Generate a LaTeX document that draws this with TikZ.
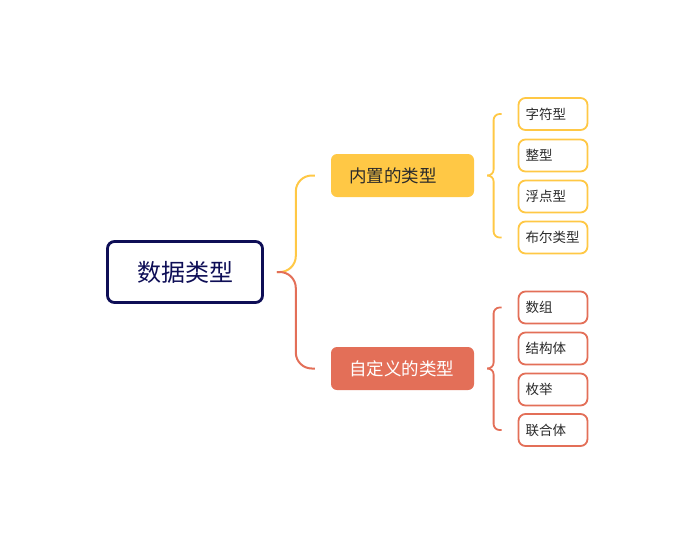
\documentclass[tikz,border=0pt]{standalone}
\usepackage{fontspec}
\setmainfont{Noto Sans CJK SC}
\definecolor{rootnavy}{HTML}{0E0E56}
\definecolor{inyellow}{HTML}{FFC845}
\definecolor{usrred}{HTML}{E36F58}
\definecolor{leafink}{HTML}{2B2B2B}
\begin{document}
\begin{tikzpicture}[x=1pt,y=-1pt,
    rootbox/.style={draw=rootnavy, line width=2.8pt, rounded corners=7pt,
      minimum width=155pt, minimum height=61pt, text=rootnavy,
      font=\fontsize{24}{26}\selectfont},
    kindbox/.style={rounded corners=6pt, inner xsep=18pt, text width=107pt,
      align=left, minimum height=43pt, font=\fontsize{17.5}{19}\selectfont},
    leafbox/.style={draw=#1, fill=white, line width=1.8pt, rounded corners=7pt,
      inner xsep=7pt, text width=55pt, align=left, minimum height=32pt,
      text=leafink, font=\fontsize{13.5}{15}\selectfont},
    link/.style={draw=#1, line width=2pt, rounded corners=16pt},
    brace/.style={draw=#1, line width=1.8pt, rounded corners=6pt}]
    \useasboundingbox (0,0) rectangle (683,558);
    % Root and kinds
    \node[rootbox] (root) at (185,272) {\raisebox{-1.5pt}{数据类型}};
    \node[kindbox, fill=inyellow, text=leafink] (inner) at (402.5,175.5) {内置的类型};
    \node[kindbox, fill=usrred, text=white] (user) at (402.5,368.5) {自定义的类型};
    % Leaves
    \node[leafbox=inyellow] (chr)  at (553,114)   {字符型};
    \node[leafbox=inyellow] (int)  at (553,155.5) {整型};
    \node[leafbox=inyellow] (flt)  at (553,196.5) {浮点型};
    \node[leafbox=inyellow] (bool) at (553,237.5) {布尔类型};
    \node[leafbox=usrred] (arr)  at (553,307.5) {数组};
    \node[leafbox=usrred] (rec)  at (553,348.5) {结构体};
    \node[leafbox=usrred] (enm)  at (553,389.5) {枚举};
    \node[leafbox=usrred] (uni)  at (553,430)   {联合体};
    % Links from the root
    \coordinate (rootout) at ([xshift=13pt]root.east);
    \draw[link=inyellow] (rootout) -| ([xshift=-35pt]inner.west) -- ([xshift=-16pt]inner.west);
    \draw[link=usrred] (rootout) -| ([xshift=-35pt]user.west) -- ([xshift=-16pt]user.west);
    % Braces to the leaves
    \coordinate (innerout) at ([xshift=13pt]inner.east);
    \coordinate (userout) at ([xshift=13pt]user.east);
    \draw[brace=inyellow] (innerout) -| ([xshift=-24pt]chr.west) -- ([xshift=-16pt]chr.west);
    \draw[brace=inyellow] (innerout) -| ([xshift=-24pt]bool.west) -- ([xshift=-16pt]bool.west);
    \draw[brace=usrred] (userout) -| ([xshift=-24pt]arr.west) -- ([xshift=-16pt]arr.west);
    \draw[brace=usrred] (userout) -| ([xshift=-24pt]uni.west) -- ([xshift=-16pt]uni.west);
\end{tikzpicture}
\end{document}
